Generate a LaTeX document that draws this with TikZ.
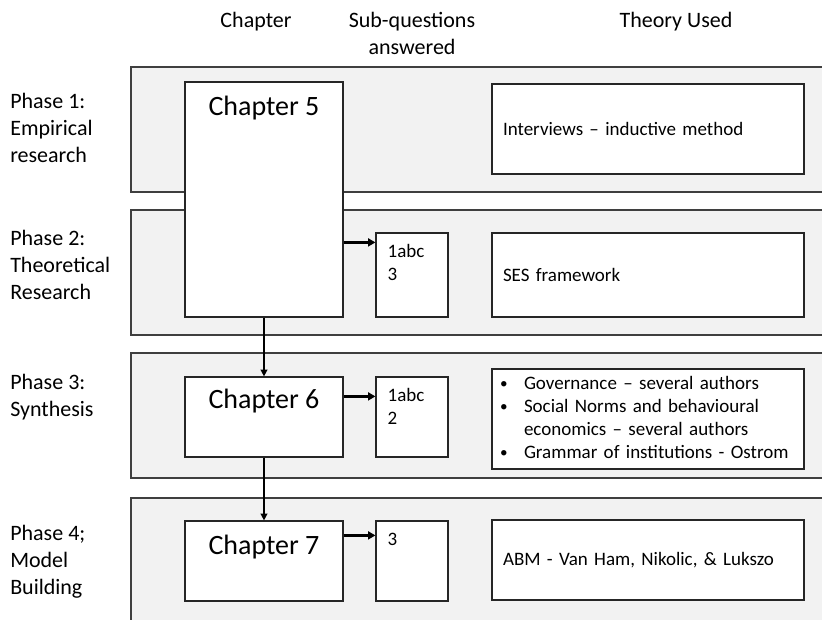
\documentclass[tikz,border=0pt]{standalone}
\usepackage{fontspec}
\setmainfont{Carlito}
\usepackage{tikz}
\usetikzlibrary{arrows.meta,positioning}
\definecolor{bandfill}{HTML}{F2F2F2}
\definecolor{banddraw}{HTML}{3F3F3F}
\definecolor{boxdraw}{HTML}{262626}
\tikzset{band/.style={draw=banddraw,fill=bandfill,line width=1.1pt,minimum width=531.75pt,minimum height=93.75pt,inner sep=0pt},box/.style={draw=boxdraw,fill=white,line width=0.9pt,inner sep=0pt},harr/.style={-{Triangle[length=5.5pt,width=6pt]},line width=1.8pt},varr/.style={-{Triangle[length=5pt,width=5pt]},line width=1pt},hd/.style={font=\fontsize{16.5}{20.25}\selectfont,align=center,inner sep=0pt,anchor=north},phase/.style={font=\fontsize{16.5}{20.25}\selectfont,align=left,anchor=west,inner sep=0pt}}
\newcommand{\dotitem}{\makebox[18pt][l]{\raisebox{0.5pt}{\scalebox{0.8}{\textbullet}}}}

\begin{document}
\begin{tikzpicture}[x=0.75pt,y=-0.75pt,
chap/.style={box,minimum width=118.5pt},
sq/.style={box,minimum width=54pt},
th/.style={box,minimum width=234pt,align=left,text width=217.5pt,inner xsep=8.25pt,font=\fontsize{14.25}{17.25}\selectfont},
small/.style={font=\fontsize{14.25}{17.25}\selectfont,align=left,inner sep=0pt},
big/.style={font=\fontsize{21}{25}\selectfont,inner sep=0pt}]
\clip (0,0) rectangle (822,619);
% headers
\node[hd] (hch) at (256,12) {Chapter};
\node[hd] (hsq) at (412,12) {Sub-questions\\answered};
\node[hd] (hth) at (676,12) {Theory Used};
% phase bands
\node[band] (b1) at (485.5,129.5) {};
\node[band] (b2) at (485.5,272.5) {};
\node[band] (b3) at (485.5,415.5) {};
\node[band,minimum height=106.5pt] (b4) at (485.5,569) {};
\node[phase] (p1) at (10,128) {Phase 1:\\Empirical\\research};
\node[phase] (p2) at (10,265) {Phase 2:\\Theoretical\\Research};
\node[phase] (p3) at (10,397) {Phase 3:\\Synthesis};
\node[phase] (p4) at (10,562) {Phase 4;\\Model\\Building};
% chapters
\node[chap,minimum height=176.25pt] (c5) at (264,199.5) {};
\node[chap,minimum height=60pt] (c6) at (264,417) {};
\node[chap,minimum height=60pt] (c7) at (264,561) {};
\node[big,below=11pt of c5.north] (l5) {Chapter 5};
\node[big,below=9.5pt of c6.north] (l6) {Chapter 6};
\node[big,below=11pt of c7.north] (l7) {Chapter 7};
% sub-questions
\node[sq,minimum height=63pt] (s1) at (412,275) {};
\node[sq,minimum height=60pt] (s2) at (412,417) {};
\node[sq,minimum height=60pt] (s3) at (412,561) {};
\node[small,anchor=north west] (q1) at ([xshift=9pt,yshift=-9pt]s1.north west) {1abc\\3};
\node[small,anchor=north west] (q2) at ([xshift=9pt,yshift=-9pt]s2.north west) {1abc\\2};
\node[small,anchor=north west] (q3) at ([xshift=9pt,yshift=-9pt]s3.north west) {3};
% theory
\node[th,minimum height=67.5pt] (t1) at (648,129) {Interviews -- inductive method};
\node[th,minimum height=63pt] (t2) at (648,275) {SES framework};
\node[th,minimum height=75pt,inner xsep=6pt,text width=222pt] (t3) at (648,419) {\begin{tabular}{@{}l@{}l@{}}
\dotitem & Governance -- several authors\\
\dotitem & Social Norms and behavioural\\
 & economics -- several authors\\
\dotitem & Grammar of institutions - Ostrom
\end{tabular}};
\node[th,minimum height=60pt] (t4) at (648,560) {ABM - Van Ham, Nikolic, \& Lukszo};
% arrows
\coordinate (a1) at ([yshift=-7.5pt]s1.north west);
\coordinate (a2) at ([yshift=-15pt]s2.north west);
\coordinate (a3) at ([yshift=-11.25pt]s3.north west);
\draw[harr] (c5.east |- a1) -- (a1);
\draw[harr] (c6.east |- a2) -- (a2);
\draw[harr] (c7.east |- a3) -- (a3);
\draw[varr] (c5.south) -- (c6.north);
\draw[varr] (c6.south) -- (c7.north);
\end{tikzpicture}
\end{document}
